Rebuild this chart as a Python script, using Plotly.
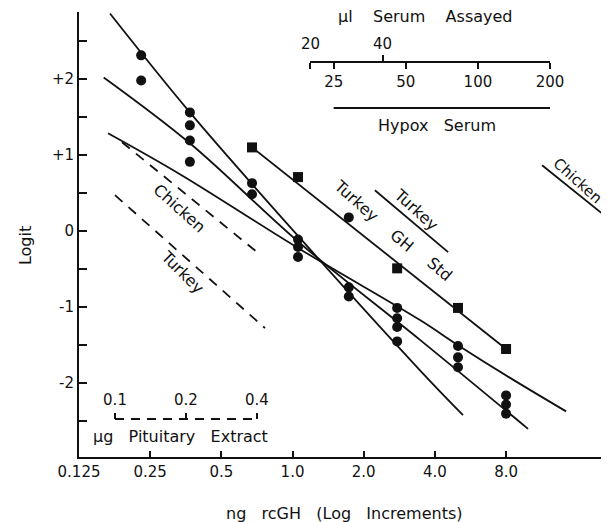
import math
import plotly.graph_objects as go

# ---------------- data ----------------
dose_ticks = [0.125, 0.25, 0.5, 1.0, 2.0, 4.0, 8.0]
dose_tick_labels = ["0.125", "0.25", "0.5", "1.0", "2.0", "4.0", "8.0"]
logit_ticks = [-2, -1, 0, 1, 2]
logit_tick_labels = ["-2", "-1", "0", "+1", "+2"]
logit_minor = [-2.5, -1.5, -0.5, 0.5, 1.5, 2.5]

# serum / extract points (filled circles)
circle_dose = [0.229, 0.229, 0.368, 0.368, 0.368, 0.368, 0.674, 0.674,
               1.055, 1.055, 1.055, 1.73, 1.73, 2.77, 2.77, 2.77, 2.77,
               5.01, 5.01, 5.01, 8.0, 8.0, 8.0]
circle_logit = [2.31, 1.98, 1.56, 1.39, 1.19, 0.91, 0.63, 0.485,
                -0.11, -0.21, -0.34, -0.74, -0.86, -1.01, -1.145, -1.26, -1.45,
                -1.51, -1.66, -1.79, -2.16, -2.28, -2.40]

# turkey GH standard (squares)
std_dose = [0.674, 1.055, 1.73, 2.77, 5.01, 8.0]
std_logit = [1.10, 0.71, 0.18, -0.49, -1.01, -1.55]
std_symbols = ["square", "square", "circle", "square", "square", "square"]
std_line_dose = [0.674, 8.0]
std_line_logit = [1.10, -1.55]

# fitted solid lines
line_a_dose = [0.169, 0.368, 1.076, 3.46, 5.26]
line_a_logit = [2.86, 1.56, -0.093, -1.83, -2.42]
line_b_dose = [0.159, 0.368, 1.076, 3.46, 9.91]
line_b_logit = [2.02, 1.155, -0.16, -1.43, -2.60]
curve_c_dose = [0.1658, 0.334, 1.076, 3.46, 5.01, 8.32, 14.35]
curve_c_logit = [1.286, 0.748, -0.238, -1.17, -1.50, -1.93, -2.37]

# dashed pituitary extract lines
chicken_pit_dose = [0.190, 0.708]
chicken_pit_logit = [1.168, -0.277]
turkey_pit_dose = [0.1775, 0.765]
turkey_pit_logit = [0.472, -1.276]

# short label lines
turkey_key_dose = [2.23, 4.55]
turkey_key_logit = [0.537, -0.277]
chicken_key_dose = [11.36, 26.8]
chicken_key_logit = [0.866, -0.067]

# inset scales
serum_top_vals = [20, 40]
serum_top_labels = ["20", "40"]
serum_bottom_vals = [20, 25, 50, 100, 200]
serum_bottom_labels = ["", "25", "50", "100", "200"]
hypox_bracket = [25, 205]
pit_vals = [0.1, 0.2, 0.4]
pit_labels = ["0.1", "0.2", "0.4"]

# ---------------- figure ----------------
FONT = "DejaVu Sans, Verdana, sans-serif"
BLACK = "#111111"
fig = go.Figure()

def add_line(xs, ys, dash="solid", width=1.8, shape="linear"):
    fig.add_trace(go.Scatter(x=xs, y=ys, mode="lines",
                             line=dict(color=BLACK, width=width, dash=dash, shape=shape),
                             hoverinfo="skip", showlegend=False))

add_line(line_a_dose, line_a_logit, shape="spline")
add_line(line_b_dose, line_b_logit, shape="spline")
add_line(curve_c_dose, curve_c_logit, shape="spline")
add_line(std_line_dose, std_line_logit)
add_line(chicken_pit_dose, chicken_pit_logit, dash="10px,8px")
add_line(turkey_pit_dose, turkey_pit_logit, dash="10px,8px")
add_line(turkey_key_dose, turkey_key_logit)
add_line(chicken_key_dose, chicken_key_logit)

fig.add_trace(go.Scatter(x=circle_dose, y=circle_logit, mode="markers",
                         marker=dict(symbol="circle", size=10, color=BLACK),
                         showlegend=False, cliponaxis=False))
fig.add_trace(go.Scatter(x=std_dose, y=std_logit, mode="markers",
                         marker=dict(symbol=std_symbols, size=10, color=BLACK),
                         showlegend=False, cliponaxis=False))

# empty traces so the inset scales are drawn as real axes
for ax in ["x2", "x3", "x4"]:
    fig.add_trace(go.Scatter(x=[], y=[], xaxis=ax, yaxis="y", mode="markers",
                             showlegend=False, hoverinfo="skip"))

tickfont = dict(family=FONT, size=15, color=BLACK)

# the page body adds an 8px offset, so the figure is 8px smaller and margins shifted
fig.update_layout(
    width=601, height=514,
    margin=dict(l=71, r=0, t=4, b=65, autoexpand=False),
    paper_bgcolor="white", plot_bgcolor="rgba(0,0,0,0)",
    font=dict(family=FONT, size=15, color=BLACK),
    showlegend=False,
    xaxis=dict(type="log", range=[math.log10(0.125), math.log10(21.8)],
               tickmode="array", tickvals=dose_ticks, ticktext=dose_tick_labels,
               ticks="inside", ticklen=6, tickwidth=2, tickcolor=BLACK,
               showline=True, linewidth=2, linecolor=BLACK, automargin=False,
               showgrid=False, zeroline=False, tickfont=tickfont),
    yaxis=dict(range=[-2.97, 2.88],
               tickmode="array", tickvals=logit_ticks, ticktext=logit_tick_labels,
               ticks="inside", ticklen=8, tickwidth=2, tickcolor=BLACK,
               minor=dict(tickmode="array", tickvals=logit_minor, ticks="inside",
                          ticklen=8, tickwidth=2, tickcolor=BLACK, showgrid=False),
               showline=True, linewidth=2, linecolor=BLACK, automargin=False,
               showgrid=False, zeroline=False, tickfont=tickfont),
    # serum assayed scale (labels above)
    xaxis2=dict(type="log", domain=[0.4358, 0.8887], anchor="free", position=0.888,
                side="top", range=[math.log10(19.9), math.log10(200)],
                tickmode="array", tickvals=serum_top_vals, ticktext=serum_top_labels,
                ticks="", ticklabelstandoff=6,
                showline=True, linewidth=2, linecolor=BLACK, automargin=False,
                minor=dict(tickmode="array", tickvals=[40], ticks="outside",
                           ticklen=6, tickwidth=2, tickcolor=BLACK, showgrid=False),
                showgrid=False, zeroline=False, tickfont=tickfont),
    # hypox serum scale (labels below)
    xaxis3=dict(type="log", domain=[0.4358, 0.8887], anchor="free", position=0.888,
                side="bottom", range=[math.log10(19.9), math.log10(200)],
                tickmode="array", tickvals=serum_bottom_vals, ticktext=serum_bottom_labels,
                ticks="outside", ticklen=6, tickwidth=2, tickcolor=BLACK, automargin=False,
                showline=False, showgrid=False, zeroline=False, tickfont=tickfont),
    # pituitary extract scale
    xaxis4=dict(type="log", domain=[0.0679, 0.3358], anchor="free", position=0.0854,
                side="top", range=[math.log10(0.1), math.log10(0.4)],
                tickmode="array", tickvals=pit_vals, ticktext=pit_labels,
                ticks="outside", ticklen=6, tickwidth=2, tickcolor=BLACK, automargin=False,
                ticklabelstandoff=2,
                showline=False, showgrid=False, zeroline=False, tickfont=tickfont),
)

# dashed pituitary axis line, hypox serum bracket
fig.add_shape(type="line", xref="x4", yref="paper", x0=pit_vals[0], x1=pit_vals[-1],
              y0=0.0854, y1=0.0854, line=dict(color=BLACK, width=2, dash="9px,7px"))
fig.add_shape(type="line", xref="x3", yref="paper", x0=hypox_bracket[0], x1=hypox_bracket[1],
              y0=0.784, y1=0.784, line=dict(color=BLACK, width=2))

def ann(text, x, y, angle=0, xref="x", yref="y", size=16):
    fig.add_annotation(text=text, x=x, y=y, xref=xref, yref=yref, textangle=angle,
                       xanchor="center", yanchor="middle",
                       showarrow=False, font=dict(family=FONT, size=size, color=BLACK))

lx = lambda v: math.log10(v)
ann("Chicken", lx(0.334), 0.30, 42)
ann("Turkey", lx(0.344), -0.54, 45)
ann("Turkey", lx(1.856), 0.406, 42)
ann("GH", lx(2.90), -0.12, 40)
ann("Std", lx(4.20), -0.51, 40)
ann("Turkey", lx(3.33), 0.29, 42)
ann("Chicken", lx(16.1), 0.66, 42, size=15)
ann("\u00b5l\u00a0\u00a0\u00a0\u00a0Serum\u00a0\u00a0\u00a0\u00a0Assayed", 0.653, 0.989, xref="paper", yref="paper")
ann("Hypox\u00a0\u00a0\u00a0Serum", 0.675, 0.746, xref="paper", yref="paper")
ann("\u00b5g\u00a0\u00a0\u00a0Pituitary\u00a0\u00a0\u00a0Extract", 0.1906, 0.045, xref="paper", yref="paper")
# axis titles
ann("ng\u00a0\u00a0\u00a0rcGH\u00a0\u00a0\u00a0(Log\u00a0\u00a0\u00a0Increments)", 0.50, -0.126,
    xref="paper", yref="paper")
ann("Logit", -0.102, 0.476, -90, xref="paper", yref="paper")

fig.write_html("out.html")
